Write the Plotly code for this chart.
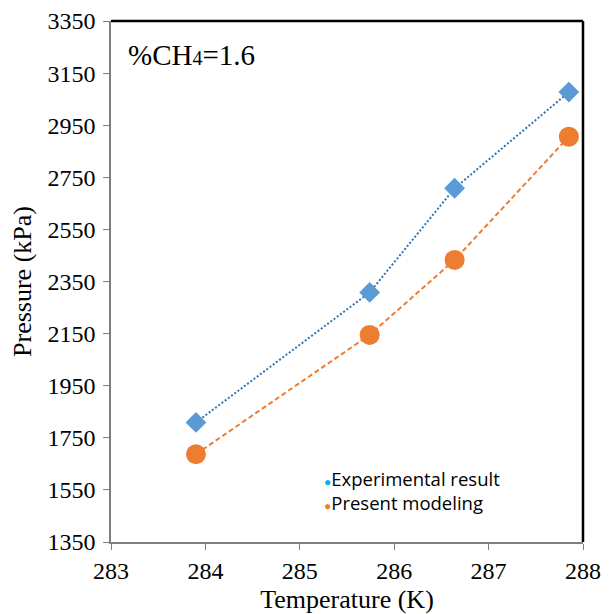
import plotly.graph_objects as go

temperature = [283.9, 285.74, 286.64, 287.85]
experimental = [1809, 2308, 2708, 3077]
modeling = [1687, 2145, 2433, 2906]
series_names = ["Experimental result", "Present modeling"]
legend_colors = ["#00B0F0", "#ED7D31"]
x_ticks = [283, 284, 285, 286, 287, 288]
y_ticks = list(range(1350, 3351, 200))

SERIF = "Liberation Serif"

fig = go.Figure()
fig.add_trace(go.Scatter(
    x=temperature, y=experimental, mode="lines+markers", name=series_names[0],
    line=dict(color="#2E75B6", width=2, dash="2px,2px"),
    marker=dict(symbol="diamond", size=16, color="#5B9BD5"),
    showlegend=False))
fig.add_trace(go.Scatter(
    x=temperature, y=modeling, mode="lines+markers", name=series_names[1],
    line=dict(color="#ED7D31", width=2, dash="5px,3px"),
    marker=dict(symbol="circle", size=20, color="#ED7D31"),
    showlegend=False))

title_font = dict(family=SERIF, size=26, color="black")
fig.update_layout(font=dict(family=SERIF, size=24, color="black"))
fig.update_xaxes(range=[283, 288], tickvals=x_ticks,
                 tickfont_family=SERIF, tickfont_size=24, tickfont_color="#000000",
                 showgrid=False, zeroline=False, showline=True, linecolor="#7f7f7f", linewidth=1.5,
                 ticks="outside", tickcolor="#7f7f7f", ticklen=6,
                 title=dict(text="Temperature (K)", font=title_font, standoff=8))
fig.update_yaxes(range=[1350, 3350], tickvals=y_ticks,
                 tickfont_family=SERIF, tickfont_size=24, tickfont_color="#000000",
                 showgrid=False, zeroline=False, showline=True, linecolor="#7f7f7f", linewidth=1.5,
                 ticks="outside", tickcolor="#7f7f7f", ticklen=6, ticklabelstandoff=3,
                 title=dict(text="Pressure (kPa)", font=title_font, standoff=10))

# top and right frame lines
fig.add_shape(type="line", xref="paper", yref="paper", x0=0, x1=1, y0=1, y1=1, line=dict(color="black", width=2.5))
fig.add_shape(type="line", xref="paper", yref="paper", x0=1, x1=1, y0=0, y1=1, line=dict(color="black", width=2.5))

fig.add_annotation(text="%CH<span style='font-size:20px'>4</span>=1.6", xref="paper", yref="paper",
                   x=0.032, y=0.935, xanchor="left", yanchor="middle", showarrow=False,
                   font=dict(family=SERIF, size=29, color="black"))

legend_y = [0.121, 0.075]
for name, col, ly in zip(series_names, legend_colors, legend_y):
    fig.add_annotation(text=f"<span style='color:{col};font-size:12px'>●</span>{name}", xref="paper", yref="paper",
                       x=0.447, y=ly, xanchor="left", yanchor="middle", showarrow=False,
                       font=dict(family="Open Sans", size=18.5, color="black"))

fig.update_layout(width=601, height=606, margin=dict(l=103, r=26, t=13, b=72, autoexpand=False),
                  plot_bgcolor="white", paper_bgcolor="white")
fig.write_html("out.html")
